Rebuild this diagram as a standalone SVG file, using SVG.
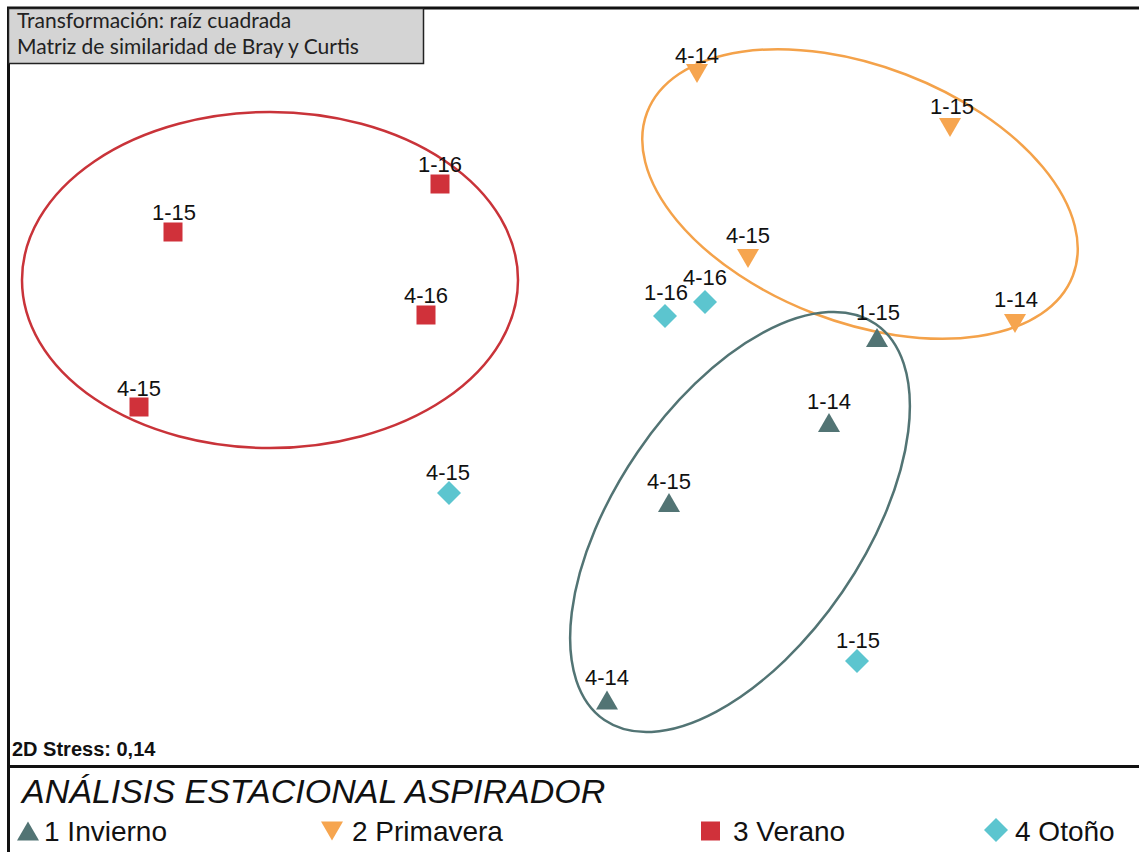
<svg xmlns="http://www.w3.org/2000/svg" width="1139" height="852" viewBox="0 0 1139 852">
<style>
.lbl{font-family:"Liberation Sans",Arial,sans-serif;font-size:22px;fill:#111;text-anchor:middle}
.box{font-family:Lato,"Liberation Sans",sans-serif;font-size:21px;fill:#222}
.leg{font-family:"Liberation Sans",Arial,sans-serif;font-size:28px;fill:#111}
.inv{fill:#527474}
.pri{fill:#f6a54f}
.ver{fill:#d0313a}
.oto{fill:#5cc5cf}
.ell{fill:none;stroke-width:2.5}
</style>
<defs>
<polygon id="tu" points="-11,9.5 11,9.5 0,-9.5"/>
<polygon id="td" points="-11,-9.5 11,-9.5 0,9.5"/>
<rect id="sq" x="-9.5" y="-9.5" width="19" height="19"/>
<polygon id="dm" points="0,-12 12,0 0,12 -12,0"/>
</defs>
<rect width="1139" height="852" fill="#fff"/>
<g id="frame" stroke="#111" stroke-width="3">
<line x1="7" y1="8" x2="1139" y2="8"/>
<line x1="8.5" y1="7" x2="8.5" y2="852"/>
<line x1="8" y1="766.5" x2="1139" y2="766.5"/>
</g>
<g id="infobox">
<rect x="8.5" y="8.5" width="415" height="55" fill="#d4d4d4" stroke="#222" stroke-width="1.5"/>
<text class="box" x="17" y="28">Transformación: raíz cuadrada</text>
<text class="box" x="17" y="54">Matriz de similaridad de Bray y Curtis</text>
</g>
<g id="connectors">
<ellipse id="ell-verano" class="ell" cx="270" cy="280" rx="248" ry="168" stroke="#c93339"/>
<ellipse id="ell-primavera" class="ell" cx="0" cy="0" rx="228" ry="128" stroke="#f4a24a" transform="translate(860 194) rotate(21)"/>
<ellipse id="ell-invierno" class="ell" cx="0" cy="0" rx="240" ry="124" stroke="#527474" transform="translate(740 522) rotate(-55.6)"/>
</g>
<g id="inv-1-15"><use href="#tu" class="inv" x="877" y="337.5"/><text class="lbl" x="878" y="320">1-15</text></g>
<g id="inv-1-14"><use href="#tu" class="inv" x="829" y="422.5"/><text class="lbl" x="829" y="409">1-14</text></g>
<g id="inv-4-15"><use href="#tu" class="inv" x="669" y="502.5"/><text class="lbl" x="669" y="489">4-15</text></g>
<g id="inv-4-14"><use href="#tu" class="inv" x="607" y="700"/><text class="lbl" x="607" y="685">4-14</text></g>
<g id="pri-4-14"><use href="#td" class="pri" x="697" y="73.5"/><text class="lbl" x="697" y="63">4-14</text></g>
<g id="pri-1-15"><use href="#td" class="pri" x="950" y="127.5"/><text class="lbl" x="952" y="114">1-15</text></g>
<g id="pri-4-15"><use href="#td" class="pri" x="748" y="258.5"/><text class="lbl" x="748" y="243">4-15</text></g>
<g id="pri-1-14"><use href="#td" class="pri" x="1015" y="323.5"/><text class="lbl" x="1016" y="307">1-14</text></g>
<g id="ver-1-16"><use href="#sq" class="ver" x="440" y="184"/><text class="lbl" x="440" y="172">1-16</text></g>
<g id="ver-1-15"><use href="#sq" class="ver" x="173" y="232"/><text class="lbl" x="174" y="220">1-15</text></g>
<g id="ver-4-16"><use href="#sq" class="ver" x="426" y="315"/><text class="lbl" x="426" y="303">4-16</text></g>
<g id="ver-4-15"><use href="#sq" class="ver" x="139" y="407"/><text class="lbl" x="139" y="396">4-15</text></g>
<g id="oto-1-16"><use href="#dm" class="oto" x="665" y="316"/><text class="lbl" x="666" y="300">1-16</text></g>
<g id="oto-4-16"><use href="#dm" class="oto" x="705" y="302"/><text class="lbl" x="705" y="285">4-16</text></g>
<g id="oto-4-15"><use href="#dm" class="oto" x="449" y="493"/><text class="lbl" x="448" y="480">4-15</text></g>
<g id="oto-1-15"><use href="#dm" class="oto" x="857" y="661"/><text class="lbl" x="858" y="648">1-15</text></g>
<g id="stress"><text x="12" y="756" font-family="Liberation Sans,Arial,sans-serif" font-weight="bold" font-size="20" fill="#111">2D Stress: 0,14</text></g>
<g id="title"><text x="22" y="803" font-family="Liberation Sans,Arial,sans-serif" font-style="italic" font-size="34" fill="#111">ANÁLISIS ESTACIONAL ASPIRADOR</text></g>
<g id="legend">
<g id="leg-inv"><use href="#tu" class="inv" x="28" y="831"/><text class="leg" x="44" y="841">1 Invierno</text></g>
<g id="leg-pri"><use href="#td" class="pri" x="332" y="831"/><text class="leg" x="352" y="841">2 Primavera</text></g>
<g id="leg-ver"><use href="#sq" class="ver" x="710.5" y="831"/><text class="leg" x="733" y="841">3 Verano</text></g>
<g id="leg-oto"><use href="#dm" class="oto" x="996" y="830"/><text class="leg" x="1015" y="841">4 Otoño</text></g>
</g>
</svg>
